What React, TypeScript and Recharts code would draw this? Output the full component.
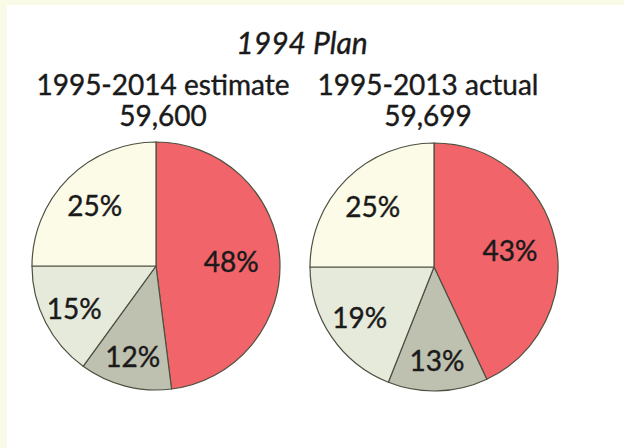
import { PieChart, Pie, Cell } from "recharts";

const sliceNames = ["Red", "Dark gray", "Light gray", "Cream"];
const sliceColors = ["#f0646a", "#bfc1b0", "#e6eadb", "#fcfbe8"];
const estimateShares = [48, 12, 15, 25];
const actualShares = [43, 13, 19, 25];

const chartTitle = "1994 Plan";
const estimateLabel = "1995-2014 estimate";
const estimateTotal = "59,600";
const actualLabel = "1995-2013 actual";
const actualTotal = "59,699";

const FONT = "Lato, 'Open Sans', sans-serif";
const INK = "#1a1a1a";
const RAD = Math.PI / 180;

const toRows = (values: number[]) => values.map((v, i) => ({ name: sliceNames[i], value: v }));

function PctLabel(props: any) {
  const { cx, cy, midAngle, outerRadius, percent, value } = props;
  const r = outerRadius * (0.6 + 0.2 * (1 - 2 * percent));
  const x = cx + r * Math.cos(-midAngle * RAD);
  const y = cy + r * Math.sin(-midAngle * RAD);
  return (
    <text
      x={x}
      y={y}
      textAnchor="middle"
      dominantBaseline="central"
      fill={INK}
      stroke={INK}
      strokeWidth={0.4}
      fontSize={28}
      fontFamily={FONT}
    >
      {`${value}%`}
    </text>
  );
}

export default function App() {
  return (
    <div style={{ position: "fixed", left: 0, top: 0, width: 624, height: 448, background: "#fafbe6" }}>
      <div style={{ position: "absolute", left: 7, top: 5, right: 0, bottom: 0, background: "#ffffff" }} />
      <div style={{ position: "absolute", left: 0, top: 0 }}>
        <PieChart width={624} height={448} margin={{ top: 0, right: 0, bottom: 0, left: 0 }}>
          <Pie
            data={toRows(estimateShares)}
            dataKey="value"
            cx={156}
            cy={266}
            outerRadius={124}
            startAngle={90}
            endAngle={-270}
            stroke="#4d5040"
            strokeWidth={1.2}
            label={PctLabel}
            labelLine={false}
            isAnimationActive={false}
          >
            {estimateShares.map((_, i) => (
              <Cell key={i} fill={sliceColors[i]} />
            ))}
          </Pie>
          <Pie
            data={toRows(actualShares)}
            dataKey="value"
            cx={434}
            cy={267}
            outerRadius={124}
            startAngle={90}
            endAngle={-270}
            stroke="#4d5040"
            strokeWidth={1.2}
            label={PctLabel}
            labelLine={false}
            isAnimationActive={false}
          >
            {actualShares.map((_, i) => (
              <Cell key={i} fill={sliceColors[i]} />
            ))}
          </Pie>
        </PieChart>
      </div>
      <svg width={624} height={448} style={{ position: "absolute", left: 0, top: 0, pointerEvents: "none" }}>
        <g fill={INK} stroke={INK} strokeWidth={0.4} fontFamily={FONT} textAnchor="middle">
          <text x={302} y={54} fontSize={30} fontStyle="italic">{chartTitle}</text>
          <text x={163} y={95} fontSize={28}>{estimateLabel}</text>
          <text x={163} y={126} fontSize={28}>{estimateTotal}</text>
          <text x={428} y={95} fontSize={28}>{actualLabel}</text>
          <text x={428} y={126} fontSize={28}>{actualTotal}</text>
        </g>
      </svg>
    </div>
  );
}
